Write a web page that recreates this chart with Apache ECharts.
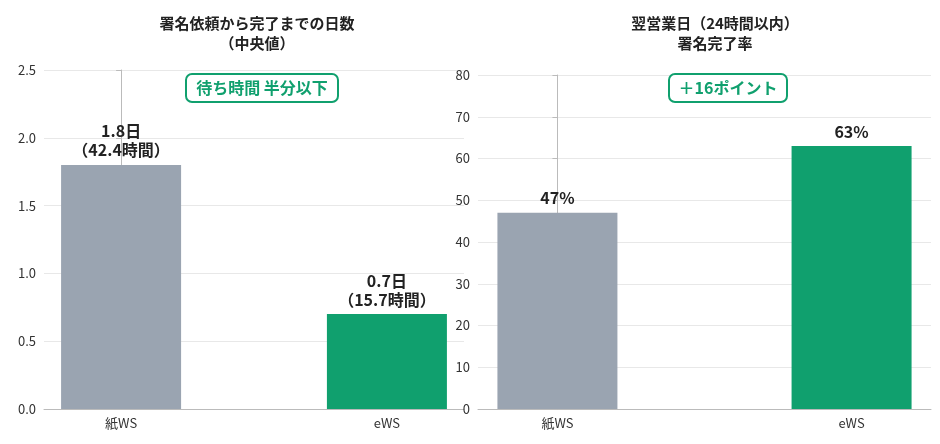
<!DOCTYPE html>
<html><head><meta charset="utf-8">
<script src="https://cdn.jsdelivr.net/npm/echarts@6/dist/echarts.min.js"></script>
<style>html,body{margin:0;background:#fff}#c{width:940px;height:444px}</style>
</head><body><div id="c"></div>
<script>
const categories = ['紙WS', 'eWS'];
const daysValues = [1.8, 0.7];
const daysLabels = ['1.8日\n（42.4時間）', '0.7日\n（15.7時間）'];
const rateValues = [47, 63];
const rateLabels = ['47%', '63%'];
const colors = ['#9aa4b1', '#10a06e'];
const F = '"Noto Sans CJK JP", "Noto Sans", sans-serif';
const chart = echarts.init(document.getElementById('c'));
function xa(idx, min, max){
  return {type:'value', gridIndex:idx, min:min, max:max, interval:0.01,
    axisLine:{show:true,lineStyle:{color:'#bbb'}}, axisTick:{show:false}, splitLine:{show:false},
    axisLabel:{color:'#333',fontSize:13,fontFamily:F,showMinLabel:false,showMaxLabel:false,
      formatter:v=>{const r=Math.round(v);return Math.abs(v-r)<0.001&&categories[r]?categories[r]:'';}}};
}
function ya(idx,max,interval,fmt){
  return {type:'value',gridIndex:idx,min:0,max:max,interval:interval,
    axisLine:{show:true,lineStyle:{color:'#bbb'}},axisTick:{show:true,lineStyle:{color:'#bbb'}},
    splitLine:{lineStyle:{color:'#e8e8e8'}},
    axisLabel:{color:'#333',fontSize:13,fontFamily:F,formatter:fmt}};
}
function bar(idx,vals,labels){
  return {type:'bar',xAxisIndex:idx,yAxisIndex:idx,barWidth:120,
    data:vals.map((v,i)=>({value:[i,v],itemStyle:{color:colors[i]},
      label:{show:true,position:'top',formatter:labels[i],color:'#222',fontWeight:'bold',fontSize:16,fontFamily:F,lineHeight:19}}))};
}
const badge = (text,left,top)=>({text:text,left:left,top:top,textAlign:'center',
  textStyle:{color:'#10a06e',fontWeight:'bold',fontSize:16,fontFamily:F},
  borderColor:'#10a06e',borderWidth:2,borderRadius:6,padding:[6,10],backgroundColor:'#fff'});
chart.setOption({
  animation:false,
  title:[
    {text:'署名依頼から完了までの日数\n（中央値）',left:252,top:8,textAlign:'center',
      textStyle:{fontSize:15,fontWeight:'bold',color:'#222',fontFamily:F,lineHeight:20}},
    {text:'翌営業日（24時間以内）\n署名完了率',left:710,top:8,textAlign:'center',
      textStyle:{fontSize:15,fontWeight:'bold',color:'#222',fontFamily:F,lineHeight:20}},
    badge('待ち時間 半分以下',252,74), badge('＋16ポイント',718,74)
  ],
  grid:[{left:44,top:70,width:420,height:339},{left:478,top:75,width:453,height:334}],
  xAxis:[xa(0,-0.29,1.29),xa(1,-0.27,1.27)],
  yAxis:[ya(0,2.5,0.5,v=>v.toFixed(1)),ya(1,80,10,v=>v)],
  series:[bar(0,daysValues,daysLabels),bar(1,rateValues,rateLabels)]
});
</script></body></html>
